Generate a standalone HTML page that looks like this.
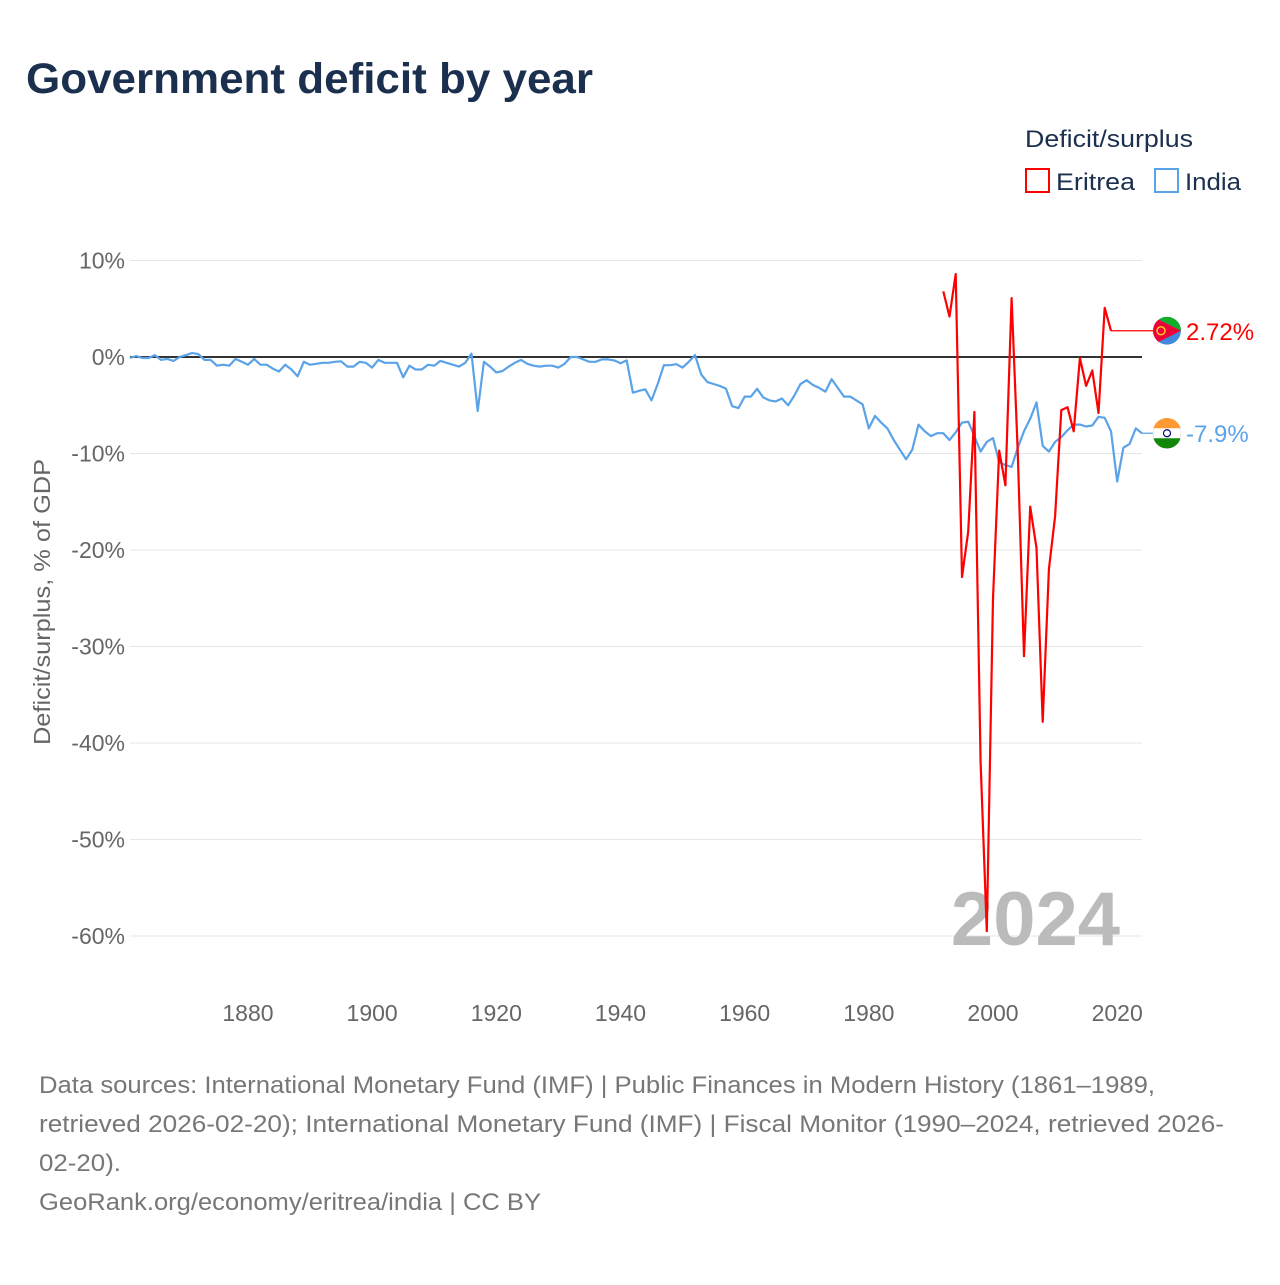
<!DOCTYPE html>
<html><head><meta charset="utf-8"><style>
body{margin:0;background:#fff;font-family:"Liberation Sans",sans-serif;}
svg text{font-family:"Liberation Sans",sans-serif;}
</style></head><body>
<svg width="1280" height="1280" viewBox="0 0 1280 1280">
<defs>
<clipPath id="ce"><circle id="cec" cx="1167" cy="0" r="14"/></clipPath>
</defs>
<rect width="1280" height="1280" fill="#fff"/>
<text x="26" y="93" font-size="43" font-weight="bold" fill="#1b2f4e" textLength="567" lengthAdjust="spacingAndGlyphs">Government deficit by year</text>
<text x="1025" y="147" font-size="24" fill="#1b2f4e" textLength="168" lengthAdjust="spacingAndGlyphs">Deficit/surplus</text>
<g><rect x="1026" y="169" width="23" height="23" fill="none" stroke="#f00" stroke-width="2"/><text x="1056" y="190" font-size="24" fill="#1b2f4e" textLength="79" lengthAdjust="spacingAndGlyphs">Eritrea</text></g>
<g><rect x="1155" y="169" width="23" height="23" fill="none" stroke="#5aa3e8" stroke-width="2"/><text x="1185" y="190" font-size="24" fill="#1b2f4e" textLength="56" lengthAdjust="spacingAndGlyphs">India</text></g>
<g id="grid"></g>
<g id="yticks"></g>
<g id="xticks"></g>
<text transform="translate(50,602) rotate(-90)" text-anchor="middle" font-size="23" fill="#666" textLength="286" lengthAdjust="spacingAndGlyphs">Deficit/surplus, % of GDP</text>
<text x="1120" y="945" text-anchor="end" font-size="76" font-weight="bold" fill="#bbb">2024</text>
<g id="series"></g>
<g id="labels"></g>
<g font-size="24" fill="#777">
<text x="39" y="1093" textLength="1116" lengthAdjust="spacingAndGlyphs">Data sources: International Monetary Fund (IMF) | Public Finances in Modern History (1861–1989,</text>
<text x="39" y="1132" textLength="1185" lengthAdjust="spacingAndGlyphs">retrieved 2026-02-20); International Monetary Fund (IMF) | Fiscal Monitor (1990–2024, retrieved 2026-</text>
<text x="39" y="1171" textLength="82" lengthAdjust="spacingAndGlyphs">02-20).</text>
<text x="39" y="1210" textLength="502" lengthAdjust="spacingAndGlyphs">GeoRank.org/economy/eritrea/india | CC BY</text>
</g>
</svg>
<script>
const yTicks=[10,0,-10,-20,-30,-40,-50,-60];
const xTicks=[1880,1900,1920,1940,1960,1980,2000,2020];
const indiaStart=1861;
const indiaValues=[-0.1,0.1,-0.1,-0.1,0.2,-0.3,-0.2,-0.4,0,0.2,0.4,0.3,-0.3,-0.3,-0.9,-0.8,-0.9,-0.2,-0.5,-0.8,-0.2,-0.8,-0.8,-1.2,-1.5,-0.8,-1.3,-2.0,-0.5,-0.8,-0.7,-0.6,-0.6,-0.5,-0.45,-1.0,-1.0,-0.5,-0.6,-1.1,-0.3,-0.6,-0.6,-0.6,-2.1,-0.9,-1.3,-1.3,-0.8,-0.9,-0.4,-0.6,-0.8,-1.0,-0.6,0.35,-5.6,-0.5,-1.0,-1.6,-1.45,-1.0,-0.6,-0.3,-0.7,-0.9,-1.0,-0.9,-0.9,-1.1,-0.7,0,0,-0.25,-0.5,-0.5,-0.25,-0.25,-0.35,-0.65,-0.35,-3.7,-3.5,-3.35,-4.5,-2.8,-0.85,-0.85,-0.75,-1.1,-0.5,0.2,-1.8,-2.6,-2.8,-3.0,-3.3,-5.1,-5.3,-4.1,-4.1,-3.3,-4.2,-4.5,-4.6,-4.3,-5.0,-4.0,-2.8,-2.4,-2.9,-3.2,-3.6,-2.3,-3.2,-4.1,-4.1,-4.5,-4.9,-7.4,-6.1,-6.8,-7.4,-8.6,-9.6,-10.6,-9.6,-7.0,-7.7,-8.2,-7.9,-7.9,-8.6,-7.8,-6.8,-6.7,-8.2,-9.8,-8.8,-8.4,-10.9,-11.2,-11.4,-9.4,-7.7,-6.4,-4.7,-9.2,-9.8,-8.8,-8.3,-7.6,-7.0,-7.0,-7.2,-7.1,-6.2,-6.3,-7.7,-12.9,-9.4,-9.0,-7.4,-7.9];
const eritreaStart=1992;
const eritreaValues=[6.8,4.2,8.6,-22.8,-18.1,-5.7,-42,-59.5,-25,-9.7,-13.3,6.1,-10,-31,-15.5,-19.8,-37.8,-22,-16.5,-5.5,-5.2,-7.7,-0.1,-3.0,-1.4,-5.8,5.1,2.72];
const NS="http://www.w3.org/2000/svg";
const x=yr=>130+(yr-1861)*(1142-130)/163;
const y=v=>357-v*9.65;
function mk(tag,attrs,parent){const e=document.createElementNS(NS,tag);for(const k in attrs)e.setAttribute(k,attrs[k]);parent.appendChild(e);return e;}
const grid=document.getElementById('grid'),yt=document.getElementById('yticks'),xt=document.getElementById('xticks');
yTicks.forEach(t=>{
 const l=mk('line',{x1:130,x2:1142,y1:y(t),y2:y(t),stroke:t===0?'#333':'#e6e6e6','stroke-width':t===0?2:1},grid);
 
 
 const tx=mk('text',{x:125,y:y(t)+8,'text-anchor':'end','font-size':23,fill:'#666'},yt);
 tx.textContent=t+'%';
 
 
});
xTicks.forEach(t=>{
 const tx=mk('text',{x:x(t),y:1021,'text-anchor':'middle','font-size':23,fill:'#666'},xt);
 tx.textContent=t;
 
 
});
const ser=document.getElementById('series');
function line(start,vals){return vals.map((v,i)=>x(start+i).toFixed(1)+','+y(v).toFixed(1)).join(' ');}
const pi=mk('polyline',{points:line(indiaStart,indiaValues),fill:'none',stroke:'#5aa3e8','stroke-width':2.2,'stroke-linejoin':'round'},ser);


const pe=mk('polyline',{points:line(eritreaStart,eritreaValues),fill:'none',stroke:'#f00','stroke-width':2.2,'stroke-linejoin':'round'},ser);


const lb=document.getElementById('labels');
const eLast=eritreaValues[eritreaValues.length-1], iLast=indiaValues[indiaValues.length-1];
const eX=x(eritreaStart+eritreaValues.length-1), iX=x(indiaStart+indiaValues.length-1);
const ey=y(eLast), iy=y(iLast);
mk('line',{x1:eX,x2:1160,y1:ey,y2:ey,stroke:'#f00','stroke-width':1.2},lb);
mk('line',{x1:iX,x2:1160,y1:iy,y2:iy,stroke:'#5aa3e8','stroke-width':1.2},lb);
document.getElementById('cec').setAttribute('cy',ey);
const ef=mk('g',{'clip-path':'url(#ce)'},lb);


mk('circle',{cx:1167,cy:ey,r:14,fill:'#4189dd'},ef);
mk('path',{d:`M1153,${ey-14} L1181,${ey-14} L1181,${ey} Z`,fill:'#12ad2b'},ef);
mk('path',{d:`M1153,${ey-14} L1181,${ey} L1153,${ey+14} Z`,fill:'#ea0437'},ef);
mk('circle',{cx:1161,cy:ey,r:4,fill:'none',stroke:'#ffc726','stroke-width':1.5},ef);
const ifl=mk('g',{},lb);


mk('circle',{cx:1167,cy:iy,r:14,fill:'#fff',stroke:'#ddd','stroke-width':0.5},ifl);
mk('path',{d:`M1153.5,${iy-5} A14,14 0 0 1 1180.5,${iy-5} Z`,fill:'#ff9933'},ifl);
mk('path',{d:`M1153.5,${iy+5} A14,14 0 0 0 1180.5,${iy+5} Z`,fill:'#138808'},ifl);
mk('circle',{cx:1167,cy:iy,r:3.5,fill:'none',stroke:'#000080','stroke-width':1.2},ifl);
const et=mk('text',{x:1186,y:ey+9,'font-size':24,fill:'#f00'},lb);
et.textContent=eLast.toFixed(2)+'%';


const it=mk('text',{x:1186,y:iy+9,'font-size':24,fill:'#5aa3e8'},lb);
it.textContent=iLast.toFixed(1)+'%';


</script>
</body></html>
